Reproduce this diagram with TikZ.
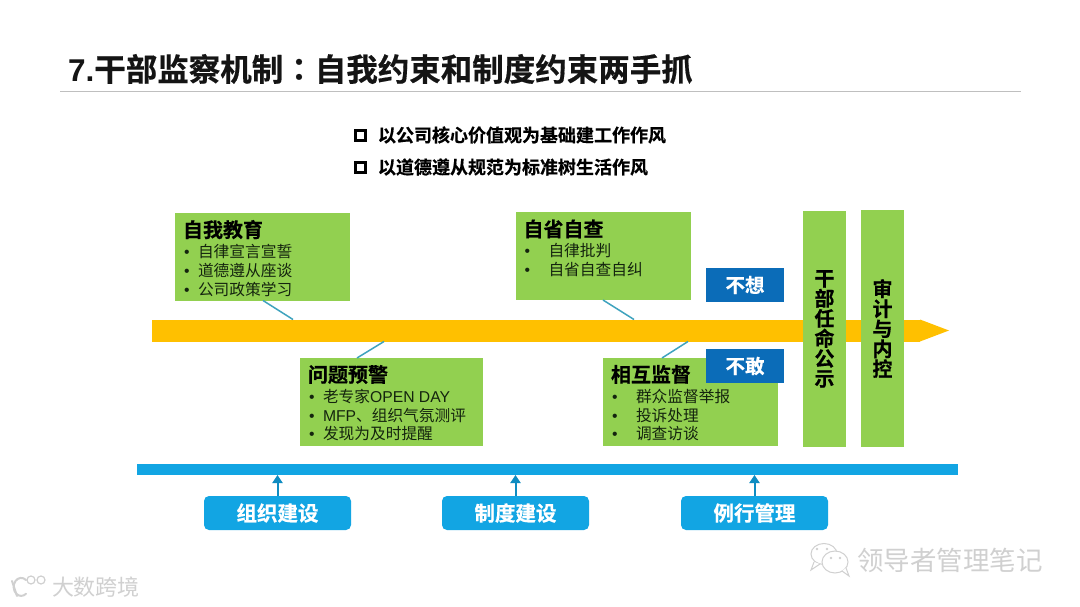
\documentclass[tikz,border=0pt]{standalone}
\usepackage{fontspec}
\setmainfont{Liberation Sans}
\newfontfamily\cjkb[FakeBold=0.5]{Noto Sans CJK SC Bold}
\newfontfamily\cjkr{Noto Sans CJK SC}
\newfontfamily\cjkt[FakeBold=0.5]{Noto Sans CJK TC Bold}
\newfontfamily\latr{Liberation Sans}
\usetikzlibrary{arrows.meta,calc}
\definecolor{gbox}{HTML}{92D050}
\definecolor{obar}{HTML}{FFC000}
\definecolor{bbar}{HTML}{12A5E3}
\definecolor{dblue}{HTML}{0B6CB8}
\definecolor{conn}{HTML}{3FA3BE}
\definecolor{ink}{HTML}{14240E}
\definecolor{wm}{HTML}{D0D0D0}
\newcommand{\boxhead}[1]{\hspace*{8pt}{\fontsize{20}{20}\selectfont\cjkb\color{black}#1}\par\vspace{1.5pt}}
\newcommand{\boxline}[2]{\hspace*{8pt}\makebox[#1][l]{\hspace*{1pt}\latr•}{\cjkr\color{ink}#2}\par}
\newcommand{\boxtext}[3]{\parbox[c][#2][t]{#1}{\parindent=0pt\lineskiplimit=-100pt\fontsize{15.7}{18.8}\selectfont\color{ink}\vspace*{7pt}#3}}
\tikzset{
  every node/.style={inner sep=0pt,outer sep=0pt},
  gnode/.style={fill=gbox,anchor=north west},
  sidebox/.style={fill=gbox,anchor=center,align=center,font=\fontsize{20}{20}\selectfont\cjkb,text=black},
  tagbox/.style={fill=dblue,text=white,font=\fontsize{19.5}{20}\selectfont\cjkb,minimum width=78pt,minimum height=34pt},
  button/.style={fill=bbar,rounded corners=5pt,text=white,font=\fontsize{20.5}{20}\selectfont\cjkb,minimum width=147pt,minimum height=34pt},
  linkline/.style={draw=conn,line width=1.5pt},
  uparrow/.style={draw=bbar!85!black,line width=2pt,-{Triangle[length=8pt,width=10pt]}},
  checkbox/.style={draw=black,line width=2.6pt,minimum width=10.5pt,minimum height=10.5pt},
  listtext/.style={anchor=west,font=\fontsize{18}{18}\selectfont\cjkb,text=black},
  wmline/.style={draw=wm,line width=1pt,fill=white}
}
\begin{document}
\begin{tikzpicture}[x=1pt,y=-1pt]
\useasboundingbox (0,0) rectangle (1080,607);
\fill[white] (0,0) rectangle (1080,607);
% title
\node[anchor=west,font=\fontsize{31.5}{32}\selectfont\cjkb,text=black!92] (title) at (68,69) {{\latr\bfseries 7.}干部监察机制{\cjkt ：}自我约束和制度约束两手抓};
\coordinate (ruleL) at (60,91.5);
\coordinate (ruleR) at (1021,91.5);
\draw[draw=black!25,line width=0.8pt] (ruleL) -- (ruleR);
% top list
\node[checkbox] (c1) at (360.5,135.5) {};
\node[checkbox] (c2) at (360.5,167.5) {};
\node[listtext] (l1) at (378,135) {以公司核心价值观为基础建工作作风};
\node[listtext] (l2) at (378,167) {以道德遵从规范为标准树生活作风};
% timeline
\node[fill=obar,anchor=west,minimum width=768pt,minimum height=22pt] (bar) at (152,330.5) {};
\coordinate (tip) at (949,330.5);
\fill[obar] (bar.north east) -- (tip) -- (bar.south east) -- cycle;
\node[fill=bbar,anchor=west,minimum width=821pt,minimum height=11pt] (base) at (137,469.5) {};
% green boxes
\node[gnode] (b1) at (175,213) {\boxtext{175pt}{87.5pt}{\boxhead{自我教育}\boxline{15pt}{自律宣言宣誓}\boxline{15pt}{道德遵从座谈}\boxline{15pt}{公司政策学习}}};
\node[gnode] (b2) at (300,358) {\boxtext{183pt}{88pt}{\boxhead{问题预警}\boxline{15pt}{老专家{\latr OPEN DAY}}\boxline{15pt}{{\latr MFP}、组织气氛测评}\boxline{15pt}{发现为及时提醒}}};
\node[gnode] (b3) at (515.5,212.5) {\boxtext{175.5pt}{87.5pt}{\boxhead{自省自查}\boxline{25pt}{自律批判}\boxline{25pt}{自省自查自纠}}};
\node[gnode] (b4) at (603,358) {\boxtext{175pt}{88pt}{\boxhead{相互监督}\boxline{25pt}{群众监督举报}\boxline{25pt}{投诉处理}\boxline{25pt}{调查访谈}}};
% connectors
\coordinate (a1) at (293,319.5);
\coordinate (a2) at (384,341.5);
\coordinate (a3) at (634,319.5);
\coordinate (a4) at (688,341.5);
\draw[linkline] ($(b1.south west)+(88,0)$) -- (a1);
\draw[linkline] ($(b2.north west)+(57,0)$) -- (a2);
\draw[linkline] ($(b3.south west)+(87.5,0)$) -- (a3);
\draw[linkline] ($(b4.north west)+(59,0)$) -- (a4);
% tags
\node[tagbox] (t1) at (745,285) {不想};
\node[tagbox] (t2) at (745,366) {不敢};
% side boxes
\node[sidebox,minimum width=43pt,minimum height=236pt] (s1) at (824.5,329) {干\\部\\任\\命\\公\\示};
\node[sidebox,minimum width=43pt,minimum height=237pt] (s2) at (882.5,328.5) {审\\计\\与\\内\\控};
% buttons
\node[button] (k1) at (277.5,513) {\raisebox{-1pt}{组织建设}};
\node[button] (k2) at (515.5,513) {\raisebox{-1pt}{制度建设}};
\node[button] (k3) at (754.5,513) {\raisebox{-1pt}{例行管理}};
\draw[uparrow] (k1.north) -- (k1.north |- base.south);
\draw[uparrow] (k2.north) -- (k2.north |- base.south);
\draw[uparrow] (k3.north) -- (k3.north |- base.south);
% watermarks
\node[anchor=west,font=\fontsize{26.5}{27}\selectfont\cjkr,text=wm] (wm1) at (857,560) {领导者管理笔记};
\node[anchor=west,font=\fontsize{22}{22}\selectfont\cjkr,text=wm] (wm2) at (52,587) {大数跨境};
\draw[wmline] (824,554) ellipse [x radius=13pt,y radius=10.5pt];
\draw[wmline] (814,562) -- (811,570) -- (820,564);
\draw[wmline] (835,562) ellipse [x radius=13pt,y radius=11pt];
\draw[wmline] (842,571) -- (849,576) -- (846,568);
\fill[wm] (817,549) circle (1.4pt) (827,549) circle (1.4pt) (831,558) circle (1.3pt) (840,558) circle (1.3pt);
\draw[draw=wm,line width=2pt,line cap=round] (12,581) -- (17,596);
\draw[draw=wm,line width=2pt,line cap=round] (26,580) arc (50:310:7.5pt and 9pt);
\draw[draw=wm,line width=1.2pt] (31,580) circle (4pt) (41,580) circle (4pt);
\end{tikzpicture}
\end{document}
